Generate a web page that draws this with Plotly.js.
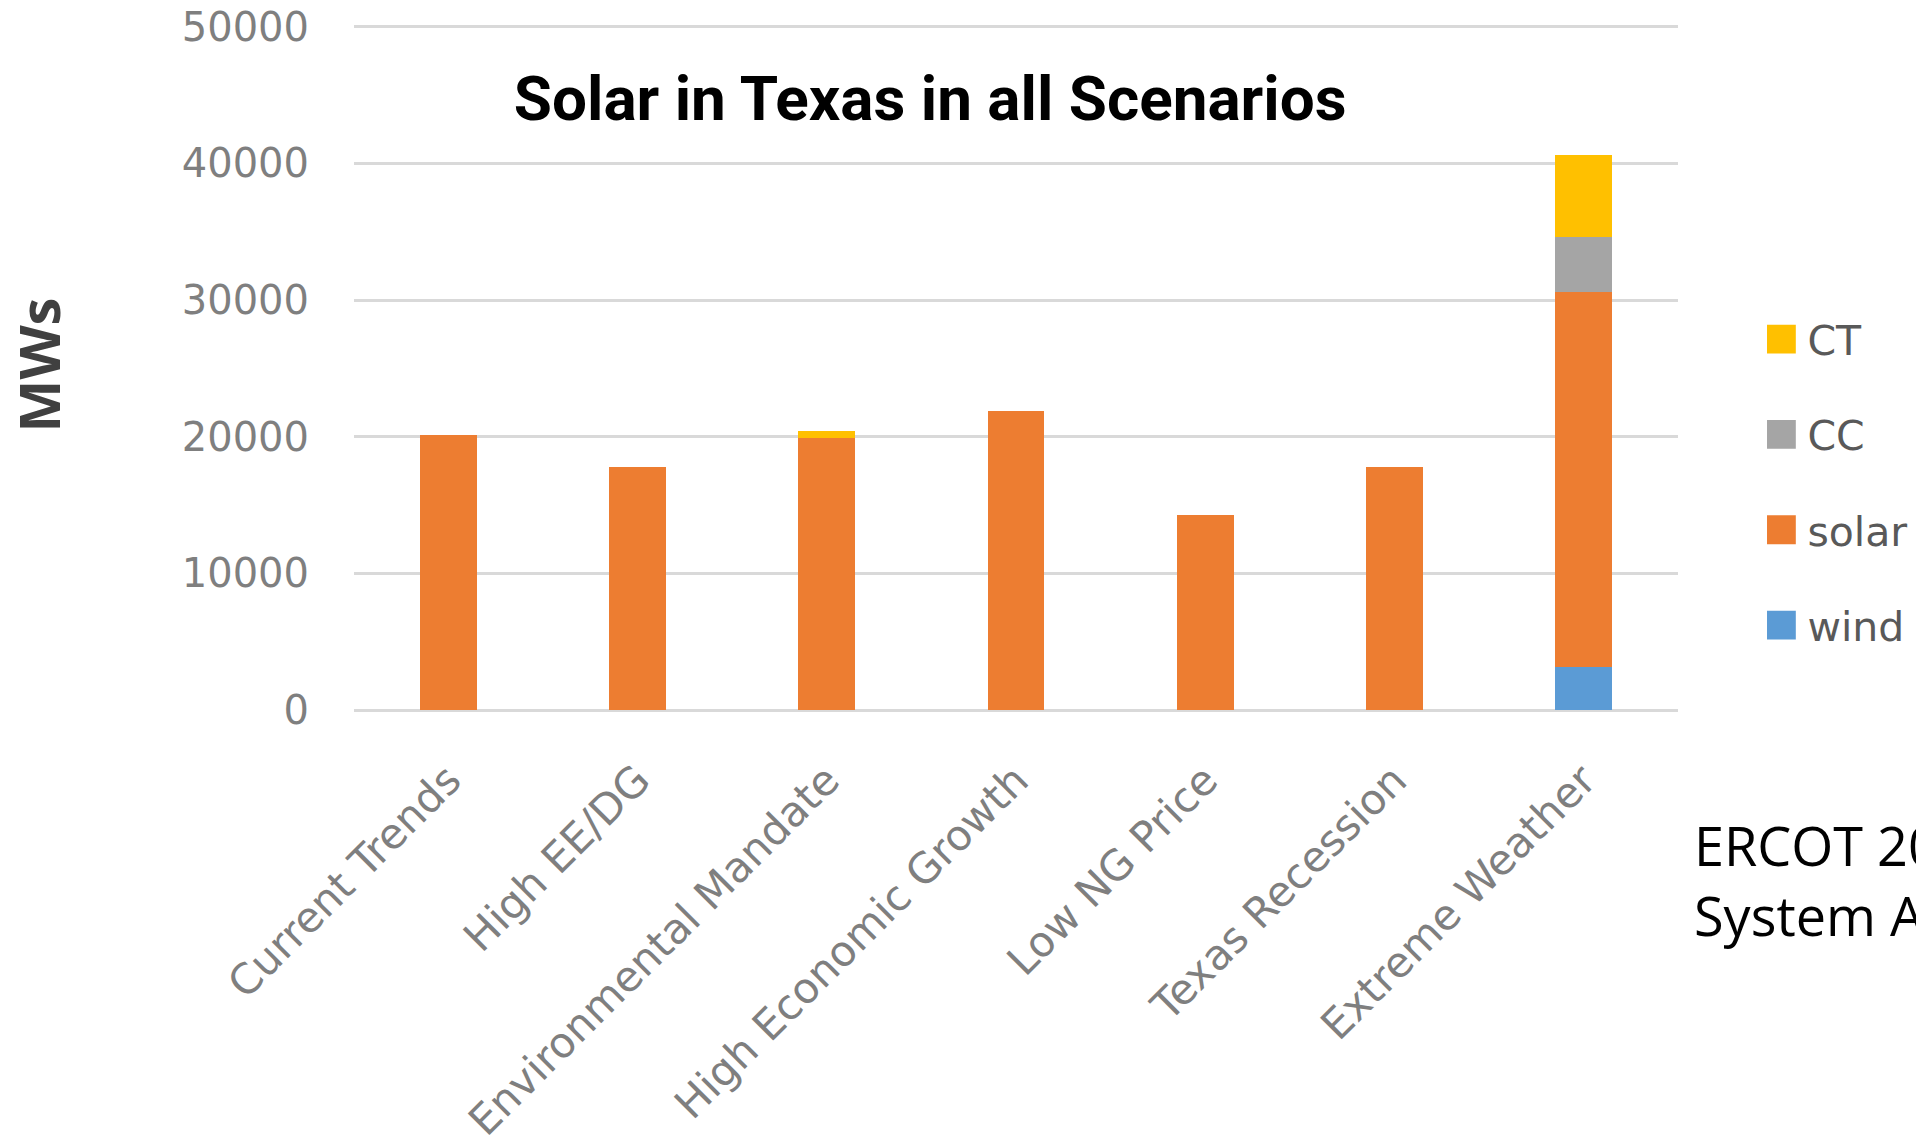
<!DOCTYPE html>
<html>
<head>
<meta charset="utf-8">
<script src="https://cdn.plot.ly/plotly-3.0.1.min.js"></script>
<style>
  html, body { margin: 0; padding: 0; background: #ffffff; }
  #chart { width: 1916px; height: 1144px; }
  g.legendpoints path { transform: translate(20px, 0px) scale(2.4); }
</style>
</head>
<body>
<div id="chart"></div>
<script>
// Data (MW)
const categories = ['Current Trends', 'High EE/DG', 'Environmental Mandate', 'High Economic Growth', 'Low NG Price', 'Texas Recession', 'Extreme Weather'];
const windMW  = [0, 0, 0, 0, 0, 0, 3150];
const solarMW = [20100, 17800, 19900, 21900, 14300, 17800, 27450];
const ccMW    = [0, 0, 0, 0, 0, 0, 4000];
const ctMW    = [0, 0, 500, 0, 0, 0, 6000];
const yTicks  = [0, 10000, 20000, 30000, 40000, 50000];

const series = [
  { name: 'wind',  values: windMW,  color: '#5B9BD5', rank: 4 },
  { name: 'solar', values: solarMW, color: '#ED7D31', rank: 3 },
  { name: 'CC',    values: ccMW,    color: '#A5A5A5', rank: 2 },
  { name: 'CT',    values: ctMW,    color: '#FFC000', rank: 1 }
];

const traces = series.map(s => ({
  type: 'bar',
  name: s.name,
  x: categories,
  y: s.values,
  legendgroup: s.name,
  legendrank: s.rank,
  marker: { color: s.color, line: { width: 0 } },
  hoverinfo: 'x+y+name'
}));

const yTickFont = { family: 'DejaVu Sans', size: 40, color: '#7F7F7F' };
const xTickFont = { family: 'DejaVu Sans', size: 42, color: '#7F7F7F' };

const layout = {
  width: 1916,
  height: 1144,
  paper_bgcolor: '#ffffff',
  plot_bgcolor: '#ffffff',
  barmode: 'stack',
  bargap: 0.70,
  margin: { l: 354, r: 238, t: 20, b: 434, autoexpand: false },
  title: {
    text: '<b>Solar in Texas in all Scenarios</b>',
    font: { family: 'Roboto', size: 62, color: '#000000' },
    xref: 'container', yref: 'container',
    x: 0.4855, xanchor: 'center',
    y: 1 - 98 / 1144, yanchor: 'middle'
  },
  xaxis: {
    type: 'category',
    tickangle: -45,
    tickfont: xTickFont,
    showgrid: false,
    showline: false,
    zeroline: false,
    ticks: '',
    ticklabelstandoff: 36,
    automargin: false
  },
  yaxis: {
    range: [0, 50500],
    tickvals: yTicks,
    ticktext: yTicks.map(v => String(v)),
    tickfont: yTickFont,
    showgrid: true,
    gridcolor: '#D9D9D9',
    gridwidth: 3,
    zeroline: true,
    zerolinecolor: '#D9D9D9',
    zerolinewidth: 3,
    showline: false,
    ticks: '',
    ticklabelstandoff: 44,
    automargin: false,
    title: {
      text: '<b>MWs</b>',
      font: { family: 'Open Sans', size: 56, color: '#404040' },
      standoff: 106
    }
  },
  showlegend: true,
  legend: {
    traceorder: 'grouped',
    tracegroupgap: 39,
    itemwidth: 36,
    font: { family: 'DejaVu Sans', size: 41, color: '#595959' },
    bgcolor: 'rgba(0,0,0,0)',
    xref: 'paper', yref: 'paper',
    x: 1.063, xanchor: 'left',
    y: (710 - 306) / 690, yanchor: 'top'
  },
  annotations: [
    {
      text: 'ERCOT 2016 Long-Term<br>System Assessment',
      xref: 'paper', yref: 'paper',
      x: (1692 - 354) / 1324, xanchor: 'left',
      y: (710 - 806) / 690, yanchor: 'top',
      align: 'left', showarrow: false,
      font: { family: 'Open Sans', size: 54, color: '#000000' }
    }
  ]
};

Plotly.newPlot('chart', traces, layout, { displayModeBar: false, responsive: false });
</script>
</body>
</html>
